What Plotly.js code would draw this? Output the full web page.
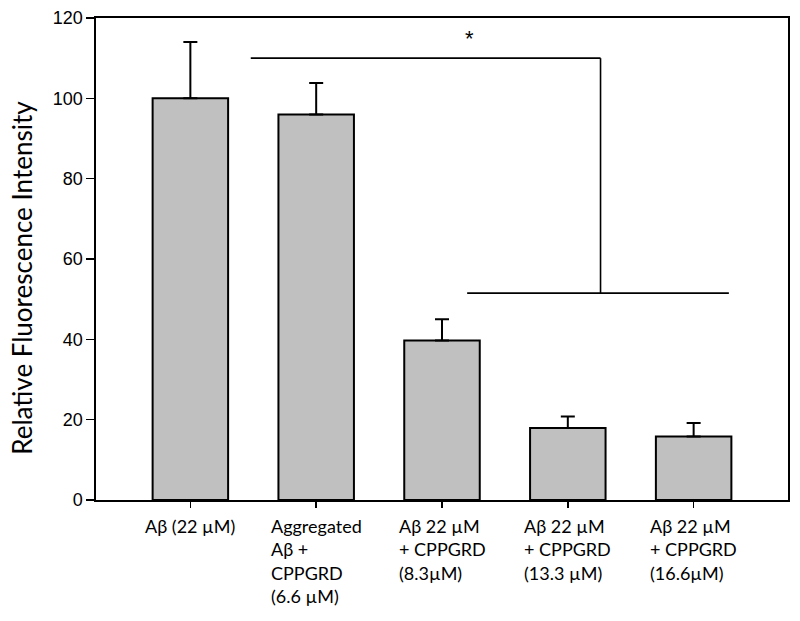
<!DOCTYPE html>
<html>
<head>
<meta charset="utf-8">
<script src="https://cdn.plot.ly/plotly-3.0.1.min.js"></script>
<style>html,body{margin:0;padding:0;background:#fff;}#chart{width:800px;height:621px;}</style>
</head>
<body>
<div id="chart"></div>
<script>
// Data
var categoryLabels = [
  "Aβ (22 µM)",
  "Aggregated<br>Aβ +<br>CPPGRD<br>(6.6 µM)",
  "Aβ 22 µM<br>+ CPPGRD<br>(8.3µM)",
  "Aβ 22 µM<br>+ CPPGRD<br>(13.3 µM)",
  "Aβ 22 µM<br>+ CPPGRD<br>(16.6µM)"
];
var categoryIndex = [0, 1, 2, 3, 4];
var meanValues = [100, 96, 39.7, 17.9, 15.8];
var errorUpper = [14, 7.8, 5.3, 2.9, 3.4];
var yTickValues = [0, 20, 40, 60, 80, 100, 120];
var yTitle = 'Relative Fluorescence Intensity';

// Significance bracket (data coordinates)
var bracketTopX = [0.48, 3.26];
var bracketTopY = 110;
var bracketBottomX = [2.2, 4.28];
var bracketBottomY = 51.5;
var starPos = [2.22, 115];

var trace = {
  type: 'bar',
  x: categoryIndex,
  y: meanValues,
  width: 0.6,
  marker: {color: '#c0c0c0', line: {color: '#000', width: 2}},
  error_y: {
    type: 'data', symmetric: false, array: errorUpper,
    arrayminus: meanValues.map(function(){return 0;}),
    color: '#000', thickness: 2, width: 7
  },
  hoverinfo: 'none'
};

var annotations = categoryLabels.map(function(t, i){
  return {
    x: categoryIndex[i], xref: 'x', y: 0, yref: 'y',
    yshift: -13, yanchor: 'top', xanchor: 'center',
    text: t, align: 'left', showarrow: false,
    font: {family: 'Lato, sans-serif', size: 18, color: '#000'}
  };
});
annotations.push({
  x: starPos[0], y: starPos[1], xref: 'x', yref: 'y', text: '*',
  showarrow: false, font: {family: 'Liberation Sans, Arial', size: 22, color: '#000'}
});
annotations.push({
  x: -0.107, y: 0.461, xref: 'paper', yref: 'paper', text: yTitle,
  textangle: -90, xanchor: 'center', yanchor: 'middle', showarrow: false,
  font: {family: 'Lato, sans-serif', size: 26, color: '#000'}
});

var lineStyle = {color: '#000', width: 1.6};
var shapes = [
  {type: 'line', xref: 'x', yref: 'y', x0: bracketTopX[0], x1: bracketTopX[1], y0: bracketTopY, y1: bracketTopY, line: lineStyle},
  {type: 'line', xref: 'x', yref: 'y', x0: bracketTopX[1], x1: bracketTopX[1], y0: bracketTopY, y1: bracketBottomY, line: lineStyle},
  {type: 'line', xref: 'x', yref: 'y', x0: bracketBottomX[0], x1: bracketBottomX[1], y0: bracketBottomY, y1: bracketBottomY, line: lineStyle}
];

var layout = {
  width: 800, height: 621,
  margin: {l: 96, r: 12, t: 18, b: 121},
  paper_bgcolor: '#fff', plot_bgcolor: '#fff',
  showlegend: false,
  xaxis: {
    range: [-0.75, 4.75], tickvals: categoryIndex, ticktext: categoryLabels,
    showticklabels: false, ticks: 'outside', ticklen: 6, tickwidth: 1.6, tickcolor: '#000',
    showline: true, linecolor: '#000', linewidth: 1.6, mirror: true,
    showgrid: false, zeroline: false, fixedrange: true
  },
  yaxis: {
    range: [0, 120], tickvals: yTickValues,
    ticks: 'outside', ticklen: 8, tickwidth: 1.6, tickcolor: '#000',
    showline: true, linecolor: '#000', linewidth: 1.6, mirror: true,
    showgrid: false, zeroline: false,
    tickfont: {family: 'Liberation Sans, Arial', size: 18, color: '#000'},
    fixedrange: true
  },
  annotations: annotations,
  shapes: shapes
};

Plotly.newPlot('chart', [trace], layout, {displayModeBar: false, staticPlot: true});
</script>
</body>
</html>
